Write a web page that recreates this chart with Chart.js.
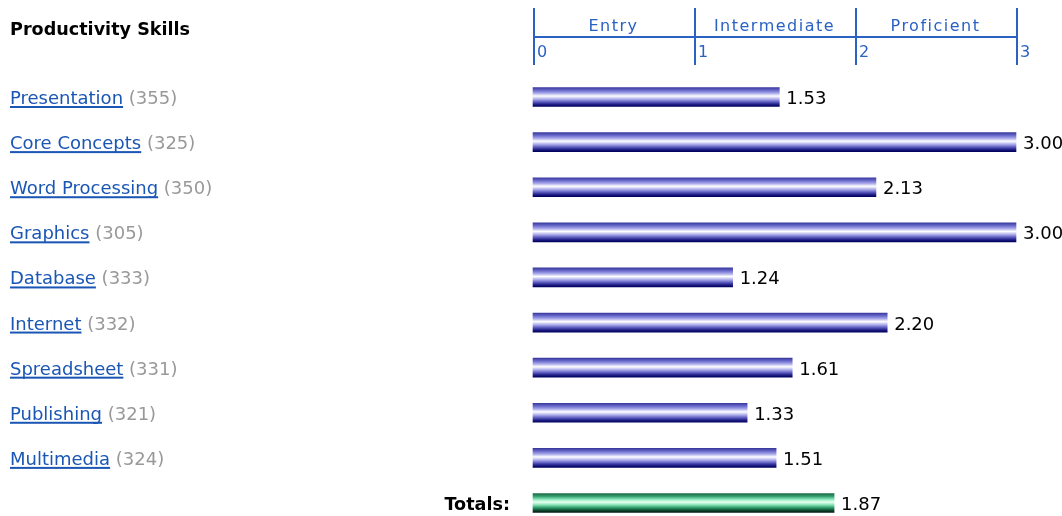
<!DOCTYPE html>
<html>
<head>
<meta charset="utf-8">
<script src="https://cdn.jsdelivr.net/npm/chart.js@4.4.0/dist/chart.umd.min.js"></script>
<style>
  html, body { margin: 0; padding: 0; background: #fff; }
  canvas { display: block; }
</style>
</head>
<body>
<canvas id="chart" width="1062" height="516"></canvas>
<script>
var skills = ["Presentation", "Core Concepts", "Word Processing", "Graphics", "Database",
  "Internet", "Spreadsheet", "Publishing", "Multimedia"];
var counts = [355, 325, 350, 305, 333, 332, 331, 321, 324];
var scores = [1.53, 3.00, 2.13, 3.00, 1.24, 2.20, 1.61, 1.33, 1.51];
var totalScore = 1.87;
var levels = ["Entry", "Intermediate", "Proficient"];
var tickLabels = ["0", "1", "2", "3"];

var blueStops = [
  [0, "#3a3a9e"], [0.15, "#6a6acc"], [0.3, "#a8a8ea"], [0.45, "#ffffff"],
  [0.6, "#b4b4ee"], [0.75, "#6262c4"], [0.88, "#22228a"], [1, "#00005e"]
];
var greenStops = [
  [0, "#1c7048"], [0.15, "#3aa878"], [0.3, "#8ee8bc"], [0.45, "#eafff4"],
  [0.6, "#8ae4b6"], [0.75, "#34a070"], [0.88, "#12583a"], [1, "#042014"]
];

var BAR_H = 19;
var TOTAL_H = 18;
var LINK = "#1a56b4";
var HEAD = "#2a62c4";

function barFill(ctx) {
  var chart = ctx.chart;
  var ys = chart.scales.y;
  var isTotal = ctx.dataIndex === skills.length;
  if (!ys || ctx.dataIndex === undefined) return "#5555bb";
  var c = ys.getPixelForValue(ctx.dataIndex);
  if (!isFinite(c)) return isTotal ? "#3aa878" : "#5555bb";
  var h = isTotal ? TOTAL_H : BAR_H;
  var g = chart.ctx.createLinearGradient(0, c - h / 2, 0, c + h / 2);
  (isTotal ? greenStops : blueStops).forEach(function (s) { g.addColorStop(s[0], s[1]); });
  return g;
}

var decorations = {
  id: "decorations",
  afterDraw: function (chart) {
    var ctx = chart.ctx;
    var xs = chart.scales.x, ys = chart.scales.y;
    ctx.save();

    // header scale
    ctx.strokeStyle = HEAD;
    ctx.lineWidth = 2;
    ctx.beginPath();
    for (var t = 0; t < tickLabels.length; t++) {
      var lx = Math.round(xs.getPixelForValue(t)) + 1;
      ctx.moveTo(lx, 8);
      ctx.lineTo(lx, 65);
    }
    ctx.moveTo(xs.getPixelForValue(0), 37);
    ctx.lineTo(xs.getPixelForValue(3) + 1, 37);
    ctx.stroke();

    ctx.fillStyle = HEAD;
    ctx.font = '16px "DejaVu Sans"';
    ctx.letterSpacing = "1.5px";
    ctx.textBaseline = "alphabetic";
    ctx.textAlign = "center";
    levels.forEach(function (name, i) {
      var mid = (xs.getPixelForValue(i) + xs.getPixelForValue(i + 1)) / 2;
      ctx.fillText(name, mid, 31);
    });
    ctx.textAlign = "left";
    tickLabels.forEach(function (lab, i) {
      ctx.fillText(lab, Math.round(xs.getPixelForValue(i)) + 4, 57);
    });
    ctx.letterSpacing = "0px";

    // title
    ctx.fillStyle = "#000";
    ctx.font = 'bold 17.6px "DejaVu Sans"';
    ctx.fillText("Productivity Skills", 10, 35);

    // row labels
    skills.forEach(function (name, i) {
      var c = ys.getPixelForValue(i);
      ctx.font = '18px "DejaVu Sans"';
      ctx.fillStyle = LINK;
      ctx.textAlign = "left";
      ctx.fillText(name, 10, c + 7);
      var w = ctx.measureText(name).width;
      ctx.fillRect(10, c + 9, w, 2);
      ctx.fillStyle = "#999";
      ctx.fillText(" (" + counts[i] + ")", 10 + w, c + 7);
    });
    var ct = ys.getPixelForValue(skills.length);
    ctx.fillStyle = "#000";
    ctx.font = 'bold 17.6px "DejaVu Sans"';
    ctx.textAlign = "right";
    ctx.fillText("Totals:", 510, ct + 7);

    // value labels
    ctx.font = '18px "DejaVu Sans"';
    ctx.textAlign = "left";
    var meta = chart.getDatasetMeta(0);
    meta.data.forEach(function (bar, i) {
      var v = chart.data.datasets[0].data[i];
      ctx.fillText(v.toFixed(2), bar.x + 7, bar.y + 7);
    });
    ctx.restore();
  }
};

new Chart(document.getElementById("chart"), {
  type: "bar",
  data: {
    labels: skills.concat(["Totals"]),
    datasets: [{
      data: scores.concat([totalScore]),
      backgroundColor: barFill,
      borderWidth: 0,
      barThickness: function (ctx) { return ctx.dataIndex === skills.length ? TOTAL_H : BAR_H; },
      clip: false
    }]
  },
  options: {
    indexAxis: "y",
    responsive: false,
    animation: false,
    devicePixelRatio: 1,
    layout: { padding: { left: 533, right: 46, top: 97, bottom: 13 } },
    scales: {
      x: { display: false, min: 0, max: 3 },
      y: { display: false, offset: false }
    },
    plugins: { legend: { display: false }, tooltip: { enabled: false } }
  },
  plugins: [decorations]
});
</script>
</body>
</html>
